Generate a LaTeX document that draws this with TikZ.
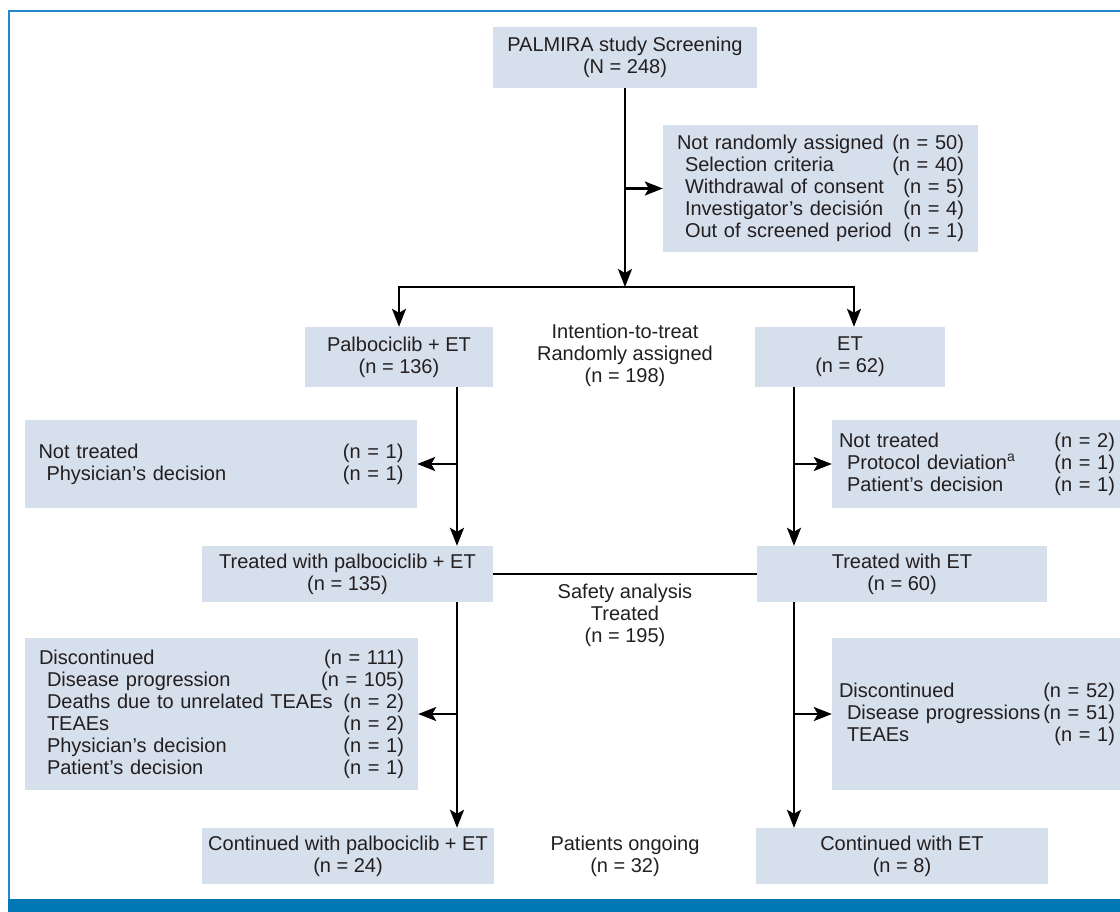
\documentclass[tikz,border=0pt]{standalone}
\usepackage{fontspec}
\setmainfont{Liberation Sans}
\usepackage{xcolor}
\usetikzlibrary{arrows.meta, positioning}
\definecolor{boxfill}{RGB}{214,223,236}
\definecolor{rulecol}{RGB}{33,138,206}
\definecolor{barcol}{RGB}{0,118,180}
\definecolor{inkcol}{RGB}{35,31,32}
\newcommand{\crow}[2]{\hbox to \linewidth{#1\hfill#2}}
\newcommand{\srow}[2]{\hbox to \linewidth{\kern8pt #1\hfill#2}}

\begin{document}
\begin{tikzpicture}[x=1pt,y=-1pt,
  every node/.style={font=\fontsize{20}{22}\selectfont, text=inkcol},
  box/.style={fill=boxfill, inner sep=0pt, align=center},
  listbox/.style={fill=boxfill, inner sep=0pt},
  line/.style={draw=black, line width=2.2pt},
  arr/.style={line, -{Stealth[length=18pt,width=14pt,inset=4pt]}}]
\useasboundingbox (0,0) rectangle (1120,912);
% frame
\draw[rulecol, line width=1.6pt] (9,899) -- (9,11) -- (1120,11);
\fill[barcol] (8,899) rectangle (1120,912);
% screening and randomisation
\node[box, minimum width=264pt, minimum height=61pt] (screen) at (625,57.5) {PALMIRA study Screening\\(N = 248)};
\node[listbox, minimum width=315pt, minimum height=127pt, text width=287pt] (notrand) at (820.5,188.5) {%
  \crow{Not randomly assigned}{(n = 50)}
  \srow{Selection criteria}{(n = 40)}
  \srow{Withdrawal of consent}{(n = 5)}
  \srow{Investigator’s decisión}{(n = 4)}
  \srow{Out of screened period}{(n = 1)}};
\node[box, minimum width=188pt, minimum height=60pt] (palbo) at (399,357) {Palbociclib + ET\\(n = 136)};
\node[box, minimum width=190pt, minimum height=60pt] (et) at (850,357) {ET\\(n = 62)};
\node[align=center] (itt) at (625,355) {Intention-to-treat\\Randomly assigned\\(n = 198)};
% not treated
\node[listbox, minimum width=392pt, minimum height=88pt, text width=365pt] (ntleft) at (221,464) {%
  \crow{Not treated}{(n = 1)}
  \srow{Physician’s decision}{(n = 1)}};
\node[listbox, minimum width=290pt, minimum height=88pt, text width=276pt] (ntright) at (977,464) {%
  \crow{Not treated}{(n = 2)}
  \srow{Protocol deviation\textsuperscript{a}}{(n = 1)}
  \srow{Patient’s decision}{(n = 1)}};
% treated
\node[box, minimum width=291pt, minimum height=56pt] (trleft) at (347.5,574) {Treated with palbociclib + ET\\(n = 135)};
\node[box, minimum width=290pt, minimum height=56pt] (trright) at (902,574) {Treated with ET\\(n = 60)};
\node[align=center] (safety) at (625,615) {Safety analysis\\Treated\\(n = 195)};
% discontinued
\node[listbox, minimum width=393pt, minimum height=152pt, text width=365pt] (discleft) at (221.5,714) {%
  \crow{Discontinued}{(n = 111)}
  \srow{Disease progression}{(n = 105)}
  \srow{Deaths due to unrelated TEAEs}{(n = 2)}
  \srow{TEAEs}{(n = 2)}
  \srow{Physician’s decision}{(n = 1)}
  \srow{Patient’s decision}{(n = 1)}};
\node[listbox, minimum width=290pt, minimum height=152pt, text width=276pt] (discright) at (977,714) {%
  \crow{Discontinued}{(n = 52)}
  \srow{Disease progressions}{(n = 51)}
  \srow{TEAEs}{(n = 1)}};
% ongoing
\node[box, minimum width=292pt, minimum height=56pt] (contleft) at (348,856) {Continued with palbociclib + ET\\(n = 24)};
\node[box, minimum width=292pt, minimum height=56pt] (contright) at (902,856) {Continued with ET\\(n = 8)};
\node[align=center] (ongoing) at (625,856) {Patients ongoing\\(n = 32)};
% connectors
\coordinate (split) at (625,287);
\coordinate (rsplit) at (854,287);
\coordinate (lcol) at (457,0);
\coordinate (rcol) at (794,0);
\draw[arr] (screen.south) -- (split);
\draw[arr] (screen.south |- notrand.west) -- (notrand.west);
\draw[arr] (split) -| (palbo.north);
\draw[arr] (split) -| (rsplit |- et.north);
\draw[arr] (palbo.south -| lcol) -- (trleft.north -| lcol);
\draw[arr] (lcol |- ntleft.east) -- (ntleft.east);
\draw[arr] (et.south -| rcol) -- (trright.north -| rcol);
\draw[arr] (rcol |- ntright.west) -- (ntright.west);
\draw[line] (trleft.east) -- (trright.west);
\draw[arr] (trleft.south -| lcol) -- (contleft.north -| lcol);
\draw[arr] (lcol |- discleft.east) -- (discleft.east);
\draw[arr] (trright.south -| rcol) -- (contright.north -| rcol);
\draw[arr] (rcol |- discright.west) -- (discright.west);
\end{tikzpicture}
\end{document}
